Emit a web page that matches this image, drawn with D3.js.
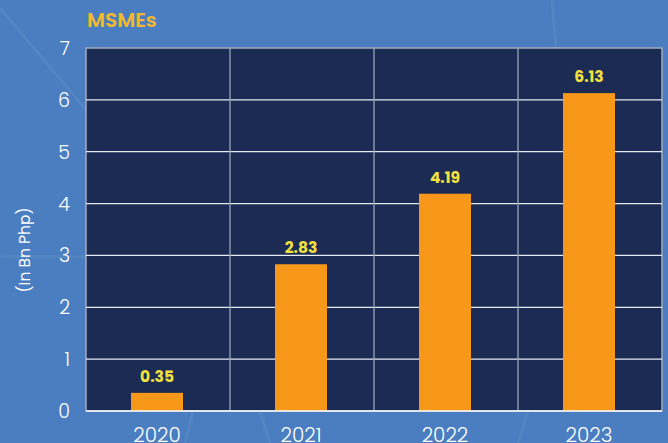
<!DOCTYPE html>
<html>
<head>
<meta charset="utf-8">
<script src="https://cdn.jsdelivr.net/npm/d3@7"></script>
<style>
  html, body { margin: 0; padding: 0; background: #4a7ec0; }
  svg { display: block; }
</style>
</head>
<body>
<svg id="chart" width="668" height="443"></svg>
<script>
// MSMEs, in billions of pesos
const years = ["2020", "2021", "2022", "2023"];
const values = [0.35, 2.83, 4.19, 6.13];
const yTicks = [0, 1, 2, 3, 4, 5, 6, 7];
const titleText = "MSMEs";
const yTitle = "(In Bn Php)";

const W = 668, H = 443;
const plot = { left: 86, right: 662, top: 48, bottom: 411 };

const svg = d3.select("#chart");
const font = "Poppins, Inter, 'Open Sans', sans-serif";

// backdrop
svg.append("rect").attr("width", W).attr("height", H).attr("fill", "#4a7ec0");

// faint decorative streaks across the backdrop
const streaks = [
  [[0, 8], [120, 150]],
  [[185, 443], [193, 411]],
  [[260, 411], [270, 443]],
  [[528, 411], [518, 443]],
  [[552, 0], [556, 48]],
  [[0, 256], [86, 257]]
];
svg.append("g").selectAll("line").data(streaks).join("line")
  .attr("x1", d => d[0][0]).attr("y1", d => d[0][1])
  .attr("x2", d => d[1][0]).attr("y2", d => d[1][1])
  .attr("stroke", "#ffffff").attr("stroke-opacity", 0.06).attr("stroke-width", 3);

const x = d3.scaleBand().domain(years).range([plot.left, plot.right]).paddingInner(0).paddingOuter(0);
const y = d3.scaleLinear().domain([0, 7]).range([plot.bottom, plot.top]);
const barW = 52;

// plot area
svg.append("rect")
  .attr("x", plot.left).attr("y", plot.top)
  .attr("width", plot.right - plot.left).attr("height", plot.bottom - plot.top)
  .attr("fill", "#1b2b53").attr("stroke", "#a3abbe").attr("stroke-width", 1.5);

// horizontal grid
svg.append("g").selectAll("line").data(yTicks.filter(t => t > 0 && t < 7)).join("line")
  .attr("x1", plot.left).attr("x2", plot.right)
  .attr("y1", d => y(d)).attr("y2", d => y(d))
  .attr("stroke", "#e6eaf3").attr("stroke-width", 1.3);

// vertical grid at category boundaries
svg.append("g").selectAll("line").data(years.slice(1)).join("line")
  .attr("x1", d => x(d)).attr("x2", d => x(d))
  .attr("y1", plot.top).attr("y2", plot.bottom)
  .attr("stroke", "#9aa3b8").attr("stroke-width", 1.3);

// bars
svg.append("g").selectAll("rect").data(values).join("rect")
  .attr("x", (d, i) => x(years[i]) + x.bandwidth() / 2 - barW / 2 - 1)
  .attr("y", d => y(d))
  .attr("width", barW)
  .attr("height", d => y(0) - y(d))
  .attr("fill", "#f7981b");

// baseline
svg.append("line")
  .attr("x1", plot.left).attr("x2", plot.right)
  .attr("y1", plot.bottom).attr("y2", plot.bottom)
  .attr("stroke", "#ffffff").attr("stroke-width", 1.5);

// value labels
svg.append("g").selectAll("text").data(values).join("text")
  .attr("x", (d, i) => x(years[i]) + x.bandwidth() / 2 - 1)
  .attr("y", d => y(d) - 11)
  .attr("text-anchor", "middle")
  .attr("font-family", font).attr("font-weight", 700).attr("font-size", 15.5)
  .attr("fill", "#f3e140")
  .text(d => d.toFixed(2));

// y-axis tick labels
svg.append("g").selectAll("text").data(yTicks).join("text")
  .attr("x", 70).attr("y", d => y(d) + 7)
  .attr("text-anchor", "end")
  .attr("font-family", font).attr("font-weight", 300).attr("font-size", 19)
  .attr("fill", "#ffffff")
  .text(d => d);

// x-axis labels (the row runs off the lower edge)
svg.append("g").selectAll("text").data(years).join("text")
  .attr("x", d => x(d) + x.bandwidth() / 2 - 1)
  .attr("y", 442)
  .attr("text-anchor", "middle")
  .attr("font-family", font).attr("font-weight", 300).attr("font-size", 20)
  .attr("fill", "#ffffff")
  .text(d => d);

// y-axis title
svg.append("text")
  .attr("transform", "translate(30,250) rotate(-90)")
  .attr("text-anchor", "middle")
  .attr("font-family", font).attr("font-weight", 400).attr("font-size", 15.5)
  .attr("fill", "#ffffff")
  .text(yTitle);

// chart title
svg.append("text")
  .attr("x", 87).attr("y", 27)
  .attr("font-family", font).attr("font-weight", 600).attr("font-size", 20)
  .attr("fill", "#f6b82f")
  .text(titleText);
</script>
</body>
</html>
